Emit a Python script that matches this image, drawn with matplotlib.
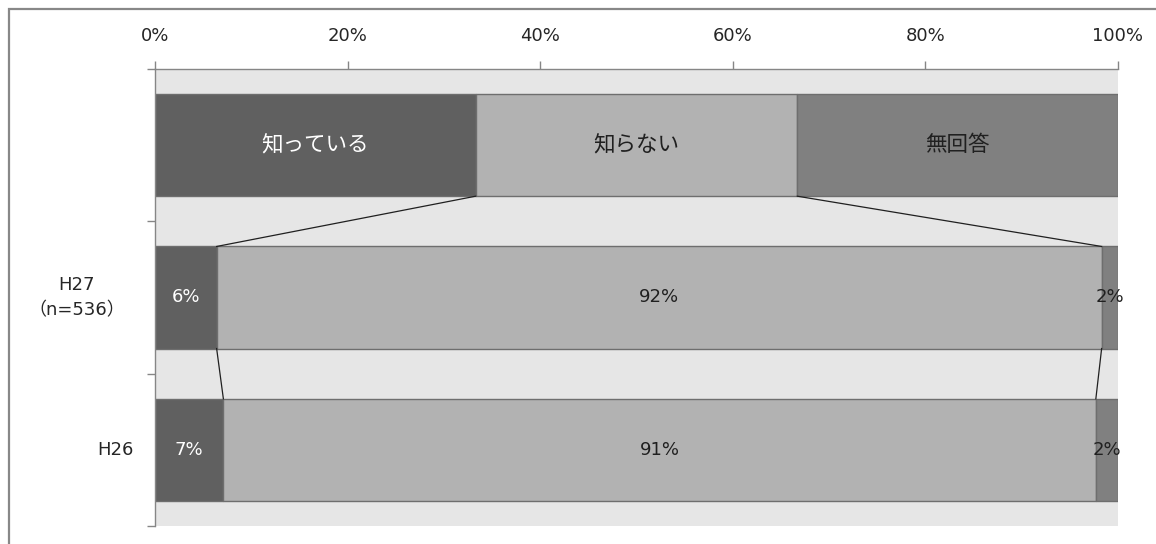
import matplotlib
matplotlib.use("Agg")
import matplotlib.pyplot as plt
import matplotlib.transforms as mtransforms
from matplotlib.patches import Rectangle
import numpy as np

FONTS = ['DejaVu Sans', 'Noto Sans CJK JP']
plt.rcParams['font.family'] = FONTS

categories = ["", "H27\n（n=536）", "H26"]
series_names = ["知っている", "知らない", "無回答"]
known = [33.3, 6.4, 7.1]
unknown = [33.4, 91.9, 90.6]
no_answer = [33.3, 1.7, 2.3]
xticks = [0, 20, 40, 60, 80, 100]
xticklabels = ["0%", "20%", "40%", "60%", "80%", "100%"]

colors = ["#606060", "#B2B2B2", "#808080"]
text_colors = ["white", "#202020", "#202020"]
bar_h = 0.67
label_x = [0.0, -0.081, -0.0415]   # category label centres in axes fraction

fig = plt.figure(figsize=(11.56, 5.44), dpi=100)
ax = fig.add_axes([155/1156, 1-526/544, (1118-155)/1156, (526-69)/544])
ax.set_facecolor("#E6E6E6")

data = np.array([known, unknown, no_answer])
y = np.arange(len(categories))
left = np.zeros(len(categories))
for s in range(3):
    ax.barh(y, data[s], left=left, height=bar_h, color=colors[s],
            edgecolor="#6E6E6E", linewidth=1.0, zorder=2)
    for i in range(len(categories)):
        cx = left[i] + data[s][i] / 2
        if i == 0:
            ax.text(cx, y[i], series_names[s], ha="center", va="center",
                    fontsize=15.5, color=text_colors[s], zorder=4,
                    family=['Noto Sans CJK JP', 'DejaVu Sans'])
        else:
            ax.text(cx, y[i], f"{data[s][i]:.0f}%", ha="center", va="center",
                    fontsize=13, color=text_colors[s], zorder=4)
    left = left + data[s]

# series lines
cum = np.cumsum(data, axis=0)
for i in range(len(categories) - 1):
    for s in range(2):
        ax.plot([cum[s][i], cum[s][i+1]],
                [y[i] + bar_h/2, y[i+1] - bar_h/2],
                color="#202020", linewidth=0.9, zorder=3)

ax.set_xlim(0, 100)
ax.set_ylim(len(categories) - 0.5, -0.5)

ax.xaxis.tick_top()
ax.set_xticks(xticks)
ax.set_xticklabels(xticklabels, fontsize=13, color="#262626")
ax.tick_params(axis="x", which="major", length=6, width=1, color="#868686", pad=11)

# category labels
ax.set_yticks(y)
ax.set_yticklabels([])
ax.tick_params(axis="y", which="major", length=0)
trans = mtransforms.blended_transform_factory(ax.transAxes, ax.transData)
for i, cat in enumerate(categories):
    if cat:
        ax.text(label_x[i], y[i], cat, transform=trans, ha="center", va="center",
                fontsize=13, color="#262626", linespacing=1.5,
                multialignment="center", clip_on=False)

ax.set_yticks(np.arange(len(categories) + 1) - 0.5, minor=True)
ax.tick_params(axis="y", which="minor", length=6, width=1, color="#868686")

for side in ["right", "bottom"]:
    ax.spines[side].set_visible(False)
for side in ["left", "top"]:
    ax.spines[side].set_color("#868686")
    ax.spines[side].set_linewidth(1)

# outer frame (partially visible)
fig.add_artist(Rectangle((9/1156, -0.5), 2.0, 1.5 - 8.5/544,
                         transform=fig.transFigure, fill=False,
                         edgecolor="#888888", linewidth=1.6))

fig.savefig("out.png", dpi=100)
